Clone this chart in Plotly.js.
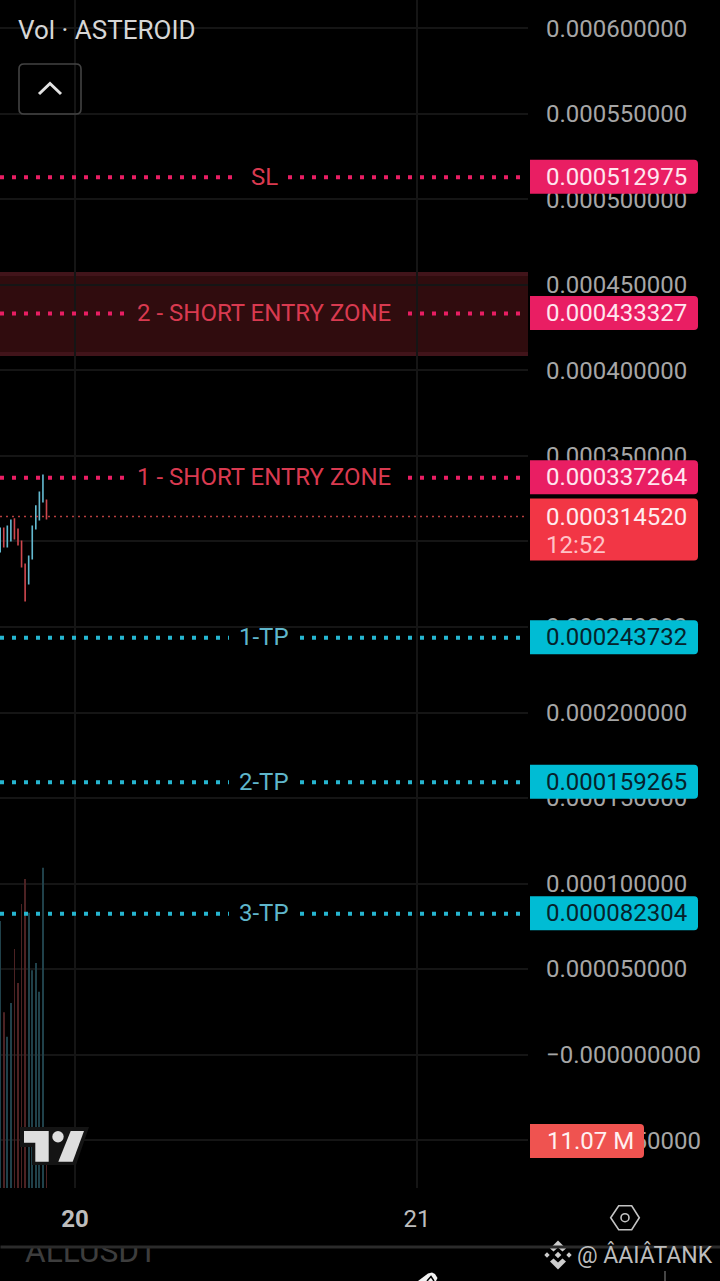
<!DOCTYPE html>
<html>
<head>
<meta charset="utf-8">
<script src="https://cdn.plot.ly/plotly-3.0.1.min.js"></script>
<style>html,body{margin:0;padding:0;background:#000;overflow:hidden}#chart{width:720px;height:1281px}</style>
</head>
<body>
<div id="chart"></div>
<script>
// Data (prices in USDT, volume in millions, x in day of month)
const candleDay = [19.78125,19.79167,19.80208,19.8125,19.82292,19.83333,19.84375,19.85417,19.86458,19.875,19.88542,19.89583,19.90625,19.91667];
const candleOpen = [0.0002936,0.0003082,0.0002965,0.0003000,0.0003135,0.0003076,0.0003006,0.0002871,0.0002749,0.0002895,0.0003070,0.0003123,0.0003228,0.0003246];
const candleClose = [0.0003082,0.0002965,0.0003094,0.0003129,0.0003012,0.0002977,0.0002848,0.0002649,0.0002918,0.0003094,0.0003211,0.0003292,0.0003392,0.0003129];
const volumeM = [62.9,41.4,35.6,43.6,56.3,48.3,66.9,72.8,64.8,51.3,53.0,46.2,75.4,11.07];

const yTickVals = [0.0006,0.00055,0.0005,0.00045,0.0004,0.00035,0.0003,0.00025,0.0002,0.00015,0.0001,0.00005,0,-0.00005];
const yTickText = ["0.000600000","0.000550000","0.000500000","0.000450000","0.000400000","0.000350000","0.000300000","0.000250000","0.000200000","0.000150000","0.000100000","0.000050000","\u22120.000000000","\u22120.000050000"];
const xTickVals = [20,21];
const xTickText = ["<b>20</b>","21"];

const levelNames = ["SL","2 - SHORT ENTRY ZONE","1 - SHORT ENTRY ZONE","1-TP","2-TP","3-TP"];
const levelPrices = [0.000512975,0.000433327,0.000337264,0.000243732,0.000159265,0.000082304];
const levelLabels = ["0.000512975","0.000433327","0.000337264","0.000243732","0.000159265","0.000082304"];
const levelKinds = ["risk","risk","risk","target","target","target"];
const zoneLow = 0.0004096, zoneHigh = 0.0004564;
const lastPrice = 0.00031452, lastPriceLabel = "0.000314520", countdown = "12:52";
const lastVolume = 11.07, lastVolumeLabel = "11.07 M";

// Styles
const W = 720, H = 1281, PLOT_R = 528, PLOT_B = 1188;
const UP = "#63b9cf", DOWN = "#cf474e", VOL_UP = "#20414a", VOL_DOWN = "#4c2223";
const GRID = "#151515";
const FONT = "Roboto, sans-serif";
const xp = px => px / W, yp = py => 1 - py / H;
const risk = {line:"#e91e63", text:"#d93a50", box:"#e91e63", boxText:"#ffe6ef"};
const target = {line:"#26b6d0", text:"#5fb6cb", box:"#00bcd4", boxText:"#06222b"};
const gapLeft = name => name.length > 10 ? 138 : (name === "SL" ? 24 : 35);
const gapRight = name => name.length > 10 ? 144 : (name === "SL" ? 24 : 36);

function poly(points, fill, extra){
  return Object.assign({type:"path", xref:"paper", yref:"paper", layer:"above",
    path:"M"+points.map(p=>xp(p[0])+","+yp(p[1])).join(" L")+" Z",
    fillcolor:fill, line:{width:0}}, extra||{});
}
function stroke(points, color, width, closed){
  return {type:"path", xref:"paper", yref:"paper", layer:"above",
    path:"M"+points.map(p=>xp(p[0])+","+yp(p[1])).join(" L")+(closed?" Z":""),
    line:{color:color,width:width}, fillcolor:"rgba(0,0,0,0)"};
}
function circle(cx,cy,r,fill,lineColor,lw){
  return {type:"circle", xref:"paper", yref:"paper", layer:"above",
    x0:xp(cx-r), x1:xp(cx+r), y0:yp(cy+r), y1:yp(cy-r),
    fillcolor:fill, line:{color:lineColor||fill,width:lw||0}};
}
function tag(yValue, yref, width, up, down, color){
  const r = 4;
  return {type:"path", layer:"above", xref:"paper", xsizemode:"pixel", xanchor:xp(530),
    yref:yref, ysizemode:"pixel", yanchor:yValue, fillcolor:color, line:{width:0},
    path:`M0,${up} L${width-r},${up} Q${width},${up} ${width},${up-r} L${width},${-down+r} Q${width},${-down} ${width-r},${-down} L0,${-down} Z`};
}
function note(text,x,y,opts){
  return Object.assign({text:text, xref:"paper", yref:"paper", x:xp(x), y:yp(y),
    xanchor:"left", yanchor:"middle", showarrow:false, font:{family:FONT,size:24,color:"#ddd"}}, opts||{});
}

const xRange = [19.7807,21.3246];
const dayAt = px => xRange[0] + px / PLOT_R * (xRange[1]-xRange[0]);
const shapes = [];
const annotations = [];

// zone (side borders fall outside the plot area)
shapes.push({type:"rect", layer:"below", xref:"x", yref:"y", x0:xRange[0]-0.03, x1:xRange[1]+0.03, y0:zoneLow, y1:zoneHigh,
  fillcolor:"#300c0e", line:{color:"#41141a", width:4}});

// level lines, names and price tags
levelPrices.forEach((price,i)=>{
  const st = levelKinds[i]==="risk" ? risk : target;
  const dotted = {color:st.line, width:4, dash:"4px,8px"};
  shapes.push({type:"line", layer:"above", xref:"x", yref:"y", x0:xRange[0], x1:dayAt(264-gapLeft(levelNames[i])), y0:price, y1:price, line:dotted});
  shapes.push({type:"line", layer:"above", xref:"x", yref:"y", x0:dayAt(264+gapRight(levelNames[i])), x1:xRange[1], y0:price, y1:price, line:dotted});
  shapes.push(tag(price,"y",168,17.5,16.5,st.box));
  annotations.push({text:levelNames[i], xref:"paper", yref:"y", x:xp(264), y:price, yshift:0.5, xanchor:"center", yanchor:"middle",
    showarrow:false, font:{family:FONT,size:24,color:st.text}});
  annotations.push({text:levelLabels[i], xref:"paper", yref:"y", x:xp(544), y:price, yshift:0.5, xanchor:"left", yanchor:"middle",
    showarrow:false, font:{family:FONT,size:24,color:st.boxText}});
});

// last price
shapes.push({type:"line", layer:"above", xref:"x", yref:"y", x0:xRange[0], x1:xRange[1], y0:lastPrice, y1:lastPrice,
  line:{color:"rgba(242,84,84,0.75)", width:1.5, dash:"2px,4px"}});
shapes.push(tag(lastPrice,"y",168,18,44,"#f23645"));
annotations.push({text:lastPriceLabel, xref:"paper", yref:"y", x:xp(544), y:lastPrice, xanchor:"left", yanchor:"middle",
  showarrow:false, font:{family:FONT,size:24,color:"#ffecee"}});
annotations.push({text:countdown, xref:"paper", yref:"y", x:xp(544), y:lastPrice, yshift:-28, xanchor:"left", yanchor:"middle",
  showarrow:false, font:{family:FONT,size:24,color:"#ffc2c7"}});

// TradingView logo
shapes.push(poly([[20,1127],[89,1127],[76,1165],[32,1165],[32,1147],[20,1147]],"#141414"));
shapes.push(poly([[24,1131],[48.7,1131],[48.7,1161.7],[35.3,1161.7],[35.3,1142.7],[24,1142.7]],"#dedede"));
shapes.push(circle(58,1136.7,5.7,"#dedede"));
shapes.push(poly([[70.7,1131],[84,1131],[72.7,1161.7],[58.3,1161.7]],"#dedede"));

// volume tag
shapes.push(tag(lastVolume,"y2",114,17,17,"#ef5350"));
annotations.push({text:lastVolumeLabel, xref:"paper", yref:"y2", x:xp(544.5), y:lastVolume, xanchor:"left", yanchor:"middle",
  showarrow:false, font:{family:FONT,size:24,color:"#fff0f0"}});

// legend button
shapes.push({type:"path", xref:"paper", yref:"paper", layer:"above", fillcolor:"rgba(0,0,0,0)", line:{color:"#434343",width:1.6},
  path:`M${xp(24)},${yp(64)} L${xp(76)},${yp(64)} Q${xp(81)},${yp(64)} ${xp(81)},${yp(69)} L${xp(81)},${yp(109)} Q${xp(81)},${yp(114)} ${xp(76)},${yp(114)} L${xp(24)},${yp(114)} Q${xp(19)},${yp(114)} ${xp(19)},${yp(109)} L${xp(19)},${yp(69)} Q${xp(19)},${yp(64)} ${xp(24)},${yp(64)} Z`});
shapes.push(stroke([[39,94],[50,83.5],[61,94]],"#e2e2e2",3));
annotations.push(note("Vol \u00b7 ASTEROID",16,30,{font:{family:FONT,size:26,color:"#d6d6d6"}}));

// settings hexagon
shapes.push(stroke([[610.7,1217.7],[618.7,1205.7],[631.7,1205.7],[639.3,1217.7],[631.7,1229.7],[618.7,1229.7]],"#c4c4c4",1.6,true));
shapes.push(circle(625,1217.7,4,"rgba(0,0,0,0)","#c4c4c4",1.6));

// bottom strip
annotations.push(note("ALLUSDT",22.5,1251,{font:{family:FONT,size:31.7,color:"#3d3d3d"}}));
annotations.push({text:"&nbsp;", xref:"paper", yref:"paper", x:xp(15), y:yp(1230), xanchor:"left", yanchor:"top",
  showarrow:false, width:160, height:16, bgcolor:"#000", font:{size:1}, borderpad:0});
annotations.push({text:"&nbsp;", xref:"paper", yref:"paper", x:0, y:yp(1245), xanchor:"left", yanchor:"top",
  showarrow:false, width:720, height:2, bgcolor:"#2b2b2b", font:{size:1}, borderpad:0});
annotations.push(note("@ \u00c2AI\u00c2TANK",575,1255,{font:{family:FONT,size:23,color:"#bdbdbd"}}));

// watermark mark
const bc = "#cdcdcd", bx = 558, by = 1255;
const diamond = (cx,cy,r)=>poly([[cx,cy-r],[cx+r,cy],[cx,cy+r],[cx-r,cy]],bc);
shapes.push(diamond(bx,by,3.3), diamond(bx-11,by,2.7), diamond(bx+11,by,2.7));
shapes.push(poly([[bx,by-14.5],[bx+8,by-6.5],[bx+4.5,by-3.5],[bx,by-7.5],[bx-4.5,by-3.5],[bx-8,by-6.5]],bc));
shapes.push(poly([[bx,by+14.5],[bx+8,by+6.5],[bx+4.5,by+3.5],[bx,by+7.5],[bx-4.5,by+3.5],[bx-8,by+6.5]],bc));

// cropped bits at the bottom edge
shapes.push(poly([[418,1281],[428,1273.5],[432,1272.5],[435,1274],[437.5,1278],[436,1281]],"#f2f2f2"));
shapes.push(stroke([[427,1281],[431,1276.5],[434,1281]],"#000",1.5));
shapes.push(stroke([[665,1271],[665,1281]],"#8a8a8a",1));

const upDown = candleClose.map((c,i)=>c>=candleOpen[i]);
const traces = [
  {type:"bar", x:candleDay, y:volumeM, yaxis:"y2", width:0.0025,
   marker:{color:upDown.map(u=>u?VOL_UP:VOL_DOWN), line:{width:0}}, hoverinfo:"skip"},
  {type:"candlestick", x:candleDay, open:candleOpen, close:candleClose,
   high:candleOpen.map((o,i)=>Math.max(o,candleClose[i])),
   low:candleOpen.map((o,i)=>Math.min(o,candleClose[i])),
   increasing:{line:{color:UP,width:0},fillcolor:UP},
   decreasing:{line:{color:DOWN,width:0},fillcolor:DOWN},
   hoverinfo:"skip"}
];

const layout = {
  width:W, height:H, margin:{l:0,r:0,t:0,b:0,autoexpand:false},
  paper_bgcolor:"#000", plot_bgcolor:"#000", showlegend:false, boxgap:0.35,
  font:{family:FONT},
  xaxis:{domain:[0,xp(PLOT_R)], range:xRange, tickmode:"array", tickvals:xTickVals, ticktext:xTickText,
    showgrid:true, gridcolor:GRID, gridwidth:1.5, zeroline:false, showline:false, ticks:"",
    ticklabelstandoff:14, tickfont:{family:FONT,size:24,color:"#bdbdbd"},
    rangeslider:{visible:false}, fixedrange:true},
  yaxis:{domain:[yp(PLOT_B),1], range:[-0.00007799,0.00061655], side:"right", tickmode:"array",
    tickvals:yTickVals, ticktext:yTickText, showgrid:true, gridcolor:GRID, gridwidth:1.5,
    zeroline:false, showline:false, ticks:"", ticklabelstandoff:17,
    tickfont:{family:FONT,size:24,color:"#a6a6a6"}, fixedrange:true},
  yaxis2:{domain:[yp(PLOT_B),1], overlaying:"y", range:[0,279.8], visible:false, fixedrange:true},
  shapes:shapes, annotations:annotations
};
Plotly.newPlot("chart", traces, layout, {displayModeBar:false, responsive:false});
</script>
</body>
</html>
